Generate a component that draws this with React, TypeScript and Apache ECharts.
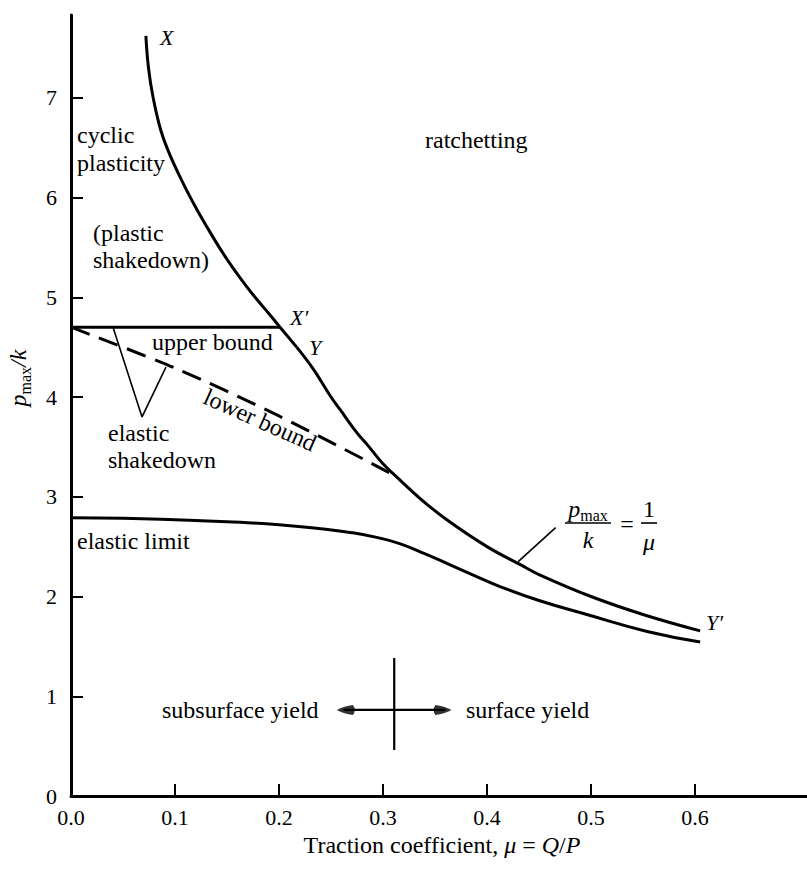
import React, { useEffect, useRef } from 'react';
import * as echarts from 'echarts';

const FONT = "'Liberation Serif', 'DejaVu Serif', serif";

const xTicks = [0, 0.1, 0.2, 0.3, 0.4, 0.5, 0.6];
const yTicks = [0, 1, 2, 3, 4, 5, 6, 7];

// X -> X' (ratchetting boundary)
const ratchetCurve = [
  [0.072, 7.62], [0.0745, 7.3], [0.079, 7.0], [0.0862, 6.68], [0.095, 6.43],
  [0.1075, 6.15], [0.12, 5.9], [0.131, 5.7], [0.145, 5.46],
  [0.156, 5.29], [0.168, 5.12], [0.179, 4.975], [0.19, 4.84], [0.201, 4.7],
];
const xPrimeToY = [[0.201, 4.7], [0.217, 4.5]];
const yToYPrime = [
  [0.217, 4.5], [0.233, 4.28], [0.25, 4.0], [0.259, 3.87], [0.275, 3.64],
  [0.285, 3.52], [0.3, 3.33], [0.31, 3.23], [0.336, 2.98], [0.36, 2.78],
  [0.4, 2.5], [0.432, 2.32], [0.45, 2.22], [0.5, 2.0], [0.55, 1.82], [0.605, 1.655],
];
const upperBound = [[0, 4.7], [0.201, 4.7]];
const lowerBound = [[0, 4.7], [0.1, 4.29], [0.2, 3.81], [0.31, 3.22]];
const elasticLimit = [
  [0, 2.79], [0.05, 2.785], [0.1, 2.77], [0.15, 2.75], [0.2, 2.72], [0.24, 2.68],
  [0.27, 2.64], [0.295, 2.59], [0.316, 2.53], [0.34, 2.43], [0.364, 2.32], [0.39, 2.2],
  [0.4125, 2.1], [0.45, 1.96], [0.496, 1.82], [0.554, 1.65], [0.605, 1.545],
];
const shakedownPointer = [[0.0404, 4.7], [0.0683, 3.8], [0.0913, 4.3]];
const formulaPointer = [[0.43, 2.35], [0.466, 2.69]];
const yieldDivider = [[0.3108, 1.384], [0.3108, 0.461]];
const yieldArrowShaft = [[0.262, 0.863], [0.36, 0.863]];
const arrowHeads = [
  { value: [0.2642, 0.863], rot: 180 },
  { value: [0.3573, 0.863], rot: 0 },
];

const txt = (text: string, x: number, y: number, extra: any = {}, styleExtra: any = {}) => ({
  type: 'text',
  x,
  y,
  ...extra,
  style: {
    text,
    fontSize: 24,
    fontFamily: FONT,
    fill: '#000',
    align: 'left',
    verticalAlign: 'middle',
    ...styleExtra,
  },
});

const hline = (x1: number, y1: number, x2: number, y2: number, w = 1.6) => ({
  type: 'line',
  shape: { x1, y1, x2, y2 },
  style: { stroke: '#000', lineWidth: w },
});

export default function App() {
  const ref = useRef<HTMLDivElement>(null);
  useEffect(() => {
    document.body.style.margin = '0';
    const chart = echarts.init(ref.current!, null, { renderer: 'svg' });
    const lineSeries = (data: number[][], width = 3, extra: any = {}) => ({
      type: 'line',
      data,
      symbol: 'none',
      smooth: extra.smooth ?? false,
      lineStyle: { color: '#000', width, ...(extra.lineStyle || {}) },
      silent: true,
      z: 3,
    });
    chart.setOption({
      animation: false,
      backgroundColor: '#fff',
      grid: { left: 71, top: 15, right: 0, bottom: 74, containLabel: false },
      xAxis: {
        type: 'value',
        min: 0,
        max: 0.7077,
        axisLine: { show: true, onZero: false, lineStyle: { color: '#000', width: 3 } },
        axisTick: { show: true, inside: true, length: 12, lineStyle: { color: '#000', width: 2 }, customValues: xTicks },
        axisLabel: {
          customValues: xTicks,
          formatter: (v: number) => v.toFixed(1),
          fontSize: 22,
          fontFamily: FONT,
          color: '#000',
          margin: 10,
        },
        splitLine: { show: false },
      },
      yAxis: {
        type: 'value',
        min: 0,
        max: 7.83,
        axisLine: { show: true, onZero: false, lineStyle: { color: '#000', width: 3 } },
        axisTick: { show: true, inside: true, length: 12, lineStyle: { color: '#000', width: 2 }, customValues: yTicks },
        axisLabel: {
          customValues: yTicks,
          formatter: (v: number) => String(v),
          fontSize: 22,
          fontFamily: FONT,
          color: '#000',
          margin: 14,
        },
        splitLine: { show: false },
      },
      series: [
        lineSeries(ratchetCurve, 3, { smooth: 0.4 }),
        lineSeries(xPrimeToY, 3),
        lineSeries(yToYPrime, 3, { smooth: 0.4 }),
        lineSeries(upperBound, 3),
        lineSeries(lowerBound, 3, { smooth: 0.3, lineStyle: { type: [20, 10] } }),
        lineSeries(elasticLimit, 3, { smooth: 0.5 }),
        lineSeries(shakedownPointer, 1.6),
        lineSeries(formulaPointer, 1.6),
        lineSeries(yieldDivider, 2.2),
        lineSeries(yieldArrowShaft, 2.2),
        {
          type: 'scatter',
          silent: true,
          z: 4,
          symbol: 'path://M2,-5 Q12,-4 20,0 Q12,4 2,5 Q-2,0 2,-5 Z',
          symbolSize: [18, 10],
          itemStyle: { color: '#000' },
          data: arrowHeads.map((a) => ({ value: a.value, symbolRotate: a.rot })),
        },
      ],
      graphic: [
        {
          type: 'text',
          x: 18,
          y: 378,
          rotation: Math.PI / 2,
          style: {
            text: '{p|p}{m|max}{k|/k}',
            align: 'center',
            verticalAlign: 'middle',
            fill: '#000',
            rich: {
              p: { fontSize: 24, fontStyle: 'italic', fontFamily: FONT, lineHeight: 30, verticalAlign: 'middle' },
              m: { fontSize: 16, fontFamily: FONT, lineHeight: 30, verticalAlign: 'bottom' },
              k: { fontSize: 24, fontStyle: 'italic', fontFamily: FONT, lineHeight: 30, verticalAlign: 'middle' },
            },
          },
        },
        {
          type: 'text',
          x: 442,
          y: 845,
          style: {
            text: '{r|Traction coefficient, }{i|μ}{r| = }{i|Q}{r|/}{i|P}',
            align: 'center',
            verticalAlign: 'middle',
            fill: '#000',
            rich: {
              r: { fontSize: 24, fontFamily: FONT },
              i: { fontSize: 24, fontFamily: FONT, fontStyle: 'italic' },
            },
          },
        },
        txt('X', 160, 37, {}, { fontStyle: 'italic', fontSize: 22 }),
        txt('X′', 290, 317, {}, { fontStyle: 'italic', fontSize: 22 }),
        txt('Y', 309, 347, {}, { fontStyle: 'italic', fontSize: 22 }),
        txt('Y′', 706, 622, {}, { fontStyle: 'italic', fontSize: 22 }),
        txt('cyclic', 77, 135),
        txt('plasticity', 77, 163),
        txt('(plastic', 93, 233),
        txt('shakedown)', 93, 260),
        txt('ratchetting', 425, 140),
        txt('upper bound', 152, 342),
        txt('lower bound', 260, 420, { rotation: -0.42 }, { align: 'center' }),
        txt('elastic', 108, 433),
        txt('shakedown', 108, 460),
        txt('elastic limit', 77, 541),
        txt('subsurface yield', 162, 710),
        txt('surface yield', 466, 710),
        {
          type: 'text',
          x: 588,
          y: 509,
          style: {
            text: '{p|p}{m|max}',
            align: 'center',
            verticalAlign: 'middle',
            fill: '#000',
            rich: {
              p: { fontSize: 24, fontStyle: 'italic', fontFamily: FONT, lineHeight: 28, verticalAlign: 'middle' },
              m: { fontSize: 16, fontFamily: FONT, lineHeight: 28, verticalAlign: 'bottom' },
            },
          },
        },
        hline(565, 523, 611, 523, 1.6),
        txt('k', 588, 540, {}, { fontStyle: 'italic', align: 'center' }),
        txt('=', 627, 524, {}, { align: 'center' }),
        txt('1', 649, 509, {}, { align: 'center' }),
        hline(641, 523, 657, 523, 1.6),
        txt('μ', 649, 542, {}, { fontStyle: 'italic', align: 'center' }),
      ],
    });
    return () => chart.dispose();
  }, []);
  return <div ref={ref} style={{ width: 807, height: 870 }} />;
}
